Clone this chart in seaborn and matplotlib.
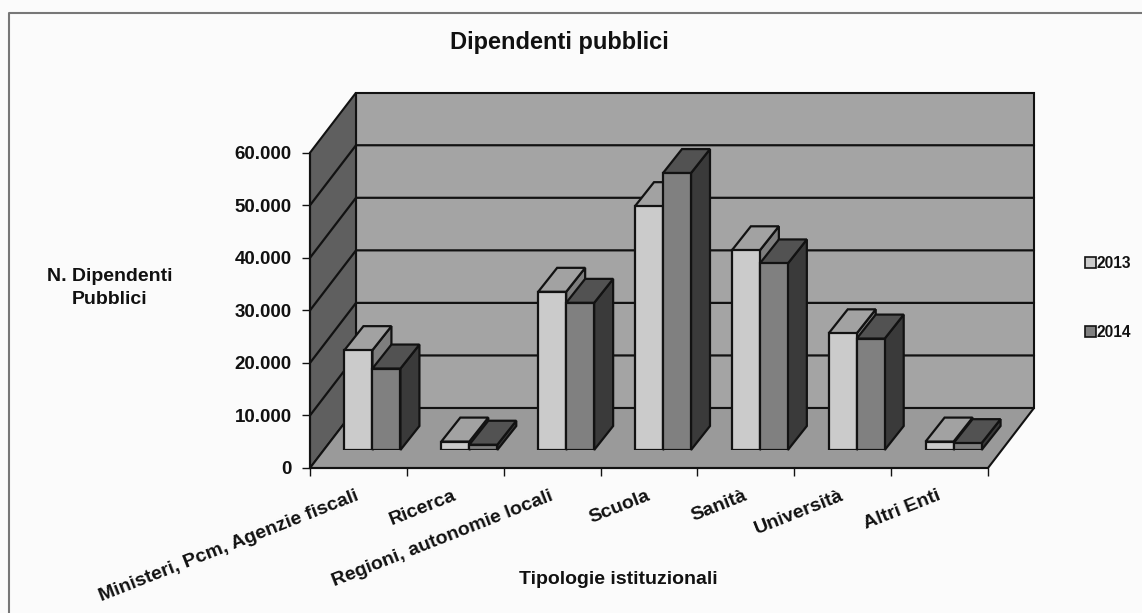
import pandas as pd
import numpy as np
import seaborn as sns
import matplotlib.pyplot as plt
from matplotlib.patches import Polygon
from matplotlib.transforms import IdentityTransform, Affine2D

categories = ['Ministeri, Pcm, Agenzie fiscali', 'Ricerca', 'Regioni, autonomie locali',
              'Scuola', 'Sanità', 'Università', 'Altri Enti']
values_2013 = [19000, 1600, 30100, 46400, 38000, 22200, 1600]
values_2014 = [15500, 1000, 28000, 52700, 35500, 21200, 1300]
y_ticks = [0, 10000, 20000, 30000, 40000, 50000, 60000]
y_tick_labels = ['0', '10.000', '20.000', '30.000', '40.000', '50.000', '60.000']

W, H = 1142, 613

# colori delle facce: frontale, sopra, lato
faces = {'2013': ('#cbcbcb', '#a2a2a2', '#7e7e7e'),
         '2014': ('#808080', '#525252', '#3a3a3a')}
EDGE = '#121212'

sns.set_theme(style='white')
plt.rcParams['font.family'] = ['Liberation Sans', 'DejaVu Sans']
plt.rcParams['font.weight'] = 'bold'

df = pd.DataFrame({'categoria': categories, '2013': values_2013, '2014': values_2014})
df = df.melt(id_vars='categoria', var_name='anno', value_name='dipendenti')


def box(left, right, top, bottom):
    return [left / W, 1 - bottom / H, (right - left) / W, (bottom - top) / H]


fig = plt.figure(figsize=(W / 100, H / 100), dpi=100, facecolor='#fbfbfb')

# piano frontale (assi) e piano delle barre, spostato in profondità
ax = fig.add_axes(box(310, 988, 152.7, 468))
ax_bars = fig.add_axes(box(324, 1002, 134.7, 450), zorder=3)
ax_bars.patch.set_alpha(0)

sns.barplot(data=df, x='categoria', y='dipendenti', hue='anno', ax=ax_bars, width=0.578, gap=0,
            palette={k: v[0] for k, v in faces.items()}, edgecolor=EDGE, linewidth=1.6,
            saturation=1, legend=False)

for a in (ax, ax_bars):
    a.set_xlim(-0.5, 6.5)
    a.set_ylim(0, 60000)
ax_bars.axis('off')


def poly(a, pts, color, z, lw=1.6):
    a.add_patch(Polygon(pts, closed=True, facecolor=color, edgecolor=EDGE, linewidth=lw, zorder=z,
                        transform=IdentityTransform(), clip_on=False))


# pareti del grafico
WALL_DX, WALL_DY = 46, 60
(x0, y0), (x1, y1) = ax.transData.transform([(-0.5, 0), (6.5, 60000)])
poly(ax, [(x0 + WALL_DX, y0 + WALL_DY), (x1 + WALL_DX, y0 + WALL_DY),
          (x1 + WALL_DX, y1 + WALL_DY), (x0 + WALL_DX, y1 + WALL_DY)], '#a4a4a4', 1, lw=1.5)
poly(ax, [(x0, y0), (x0 + WALL_DX, y0 + WALL_DY), (x0 + WALL_DX, y1 + WALL_DY), (x0, y1)], '#5f5f5f', 1, lw=1.5)
poly(ax, [(x0, y0), (x1, y0), (x1 + WALL_DX, y0 + WALL_DY), (x0 + WALL_DX, y0 + WALL_DY)], '#9a9a9a', 1.5, lw=1.5)

for t in y_ticks[1:-1]:
    yp = ax.transData.transform((0, t))[1]
    ax.plot([x0, x0 + WALL_DX, x1 + WALL_DX], [yp, yp + WALL_DY, yp + WALL_DY], color=EDGE, lw=1.6,
            transform=IdentityTransform(), zorder=1.2, clip_on=False)

# profondità delle barre, ricavata dai rettangoli di seaborn
BAR_DX, BAR_DY = 19, 24
n = len(categories)
for i, patch in enumerate(ax_bars.patches):
    anno = '2013' if i < n else '2014'
    xa, ya = ax_bars.transData.transform((patch.get_x(), 0))
    xb, yb = ax_bars.transData.transform((patch.get_x() + patch.get_width(), patch.get_height()))
    z = 2 if anno == '2013' else 4
    patch.set_zorder(z + 0.5)
    poly(ax_bars, [(xb, yb), (xb + BAR_DX, yb + BAR_DY), (xb + BAR_DX, ya + BAR_DY), (xb, ya)], faces[anno][2], z)
    poly(ax_bars, [(xa, yb), (xa + BAR_DX, yb + BAR_DY), (xb + BAR_DX, yb + BAR_DY), (xb, yb)], faces[anno][1], z)

# assi
sns.despine(ax=ax, top=True, right=True)
for side in ('left', 'bottom'):
    ax.spines[side].set_color(EDGE)
    ax.spines[side].set_linewidth(1.5)
ax.set_yticks(y_ticks, y_tick_labels, fontsize=13.5, fontweight='bold', color='#111111')
ax.set_xticks(np.arange(-0.5, 7), [''] * 8)
ax.set_xticks(np.arange(7), categories, minor=True, rotation=21.5, ha='right', va='top',
              rotation_mode='anchor', fontsize=14, fontweight='bold', color='#111111')
ax.tick_params(axis='both', which='major', length=6, width=1, color=EDGE, left=True, bottom=True, pad=7)
ax.tick_params(axis='x', which='minor', length=0, pad=14)
for label in ax.get_xticklabels(minor=True):
    label.set_transform(label.get_transform() + Affine2D().translate(-3, 0))
ax.set_xlabel('')
ax.set_ylabel('')

# testi
fig.text(559 / W, 1 - 43 / H, 'Dipendenti pubblici', ha='center', va='center', fontsize=17, fontweight='bold', color='#111111')
fig.text(109.5 / W, 1 - 288 / H, 'N. Dipendenti\nPubblici', ha='center', va='center', fontsize=14,
         fontweight='bold', color='#111111', linespacing=1.5)
fig.text(618 / W, 1 - 580 / H, 'Tipologie istituzionali', ha='center', va='center', fontsize=14,
         fontweight='bold', color='#111111')

# legenda
handles = [plt.Rectangle((0, 0), 1, 1, facecolor=faces[k][0], edgecolor=EDGE, linewidth=1.2) for k in faces]
fig.legend(handles, list(faces), loc='center left', bbox_to_anchor=(1085 / W, 1 - 298 / H), frameon=False,
           fontsize=11.2, labelspacing=3.5, handlelength=0.7, handleheight=0.7, handletextpad=0.05,
           borderpad=0, borderaxespad=0, labelcolor='#111111')

# cornice: solo lato sinistro e superiore
fig.add_artist(plt.Line2D([9 / W, 9 / W, 1], [0, 1 - 13 / H, 1 - 13 / H], transform=fig.transFigure,
                          color='#777777', linewidth=1.5))

fig.savefig('out.png', dpi=100, facecolor=fig.get_facecolor())
